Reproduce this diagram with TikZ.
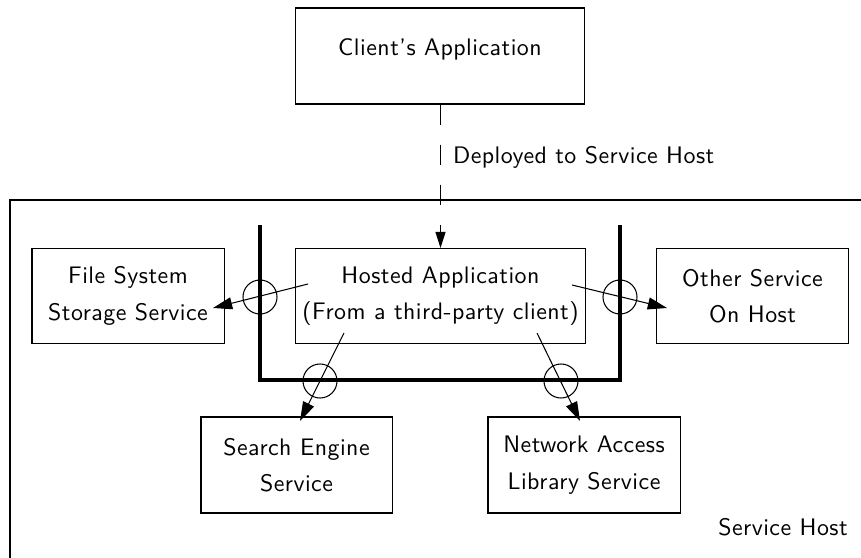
\documentclass[tikz,border=0pt]{standalone}
\usepackage{fontspec}
\usepackage{tikz}
\usetikzlibrary{arrows.meta,positioning}

\newfontfamily\diagsans{lmsans10-regular.otf}[LetterSpace=2, Ligatures=TeX]
\newcommand{\diagfont}{\diagsans\fontsize{17}{26}\selectfont}

\tikzset{
  box/.style={draw, line width=0.75pt, rectangle, align=center, inner sep=0pt,
    font=\diagfont},
  joint/.style={draw, line width=0.75pt, circle, minimum size=0.85cm, inner sep=0pt},
  uses/.style={line width=0.75pt, -{Triangle[length=0.48cm,width=0.3cm]}},
  wall/.style={line width=3.5pt},
  lbl/.style={font=\diagfont, inner sep=0pt}
}

\begin{document}
\begin{tikzpicture}[x=0.025cm, y=-0.025cm]
   \useasboundingbox (0,0) rectangle (861,558);
   \clip (0,0) rectangle (861,558);
   % the host
   \draw[line width=0.75pt] (10,200) rectangle (900,600);
   \node[lbl, anchor=east] (hostname) at (848,527) {Service Host};
   % boxes
   \node[box, minimum width=7.2cm, minimum height=2.4cm, text depth=0.45cm] (client) at (440,56) {Client's Application};
   \node[box, minimum width=7.225cm, minimum height=2.375cm] (hosted) at (440.5,296) {Hosted Application\\(From a third-party client)};
   \node[box, minimum width=4.8cm, minimum height=2.375cm] (files) at (128,296) {File System\\Storage Service};
   \node[box, minimum width=4.8cm, minimum height=2.375cm] (other) at (752.5,296) {Other Service\\On Host};
   \node[box, minimum width=4.775cm, minimum height=2.4cm] (search) at (296.5,465) {Search Engine\\Service};
   \node[box, minimum width=4.8cm, minimum height=2.4cm] (network) at (584,465) {Network Access\\Library Service};
   % sandbox wall
   \draw[wall] (260,225) |- (620,380) -- (620,225);
   \node[joint] (jfiles) at (260,297) {};
   \node[joint] (jother) at (620,297) {};
   \node[joint] (jsearch) at (320,381) {};
   \node[joint] (jnetwork) at (561,381) {};
   % deploy
   \draw[line width=0.75pt, dash pattern=on 0.5cm off 0.5cm, -{Triangle[length=0.4cm,width=0.25cm]}]
     (client.south -| hosted.north) -- node[lbl, pos=0.37, right=0.3cm] (deploy) {Deployed to Service Host} (hosted.north);
   % calls out of the hosted application
   \coordinate (hw) at (308,284);
   \coordinate (he) at (572,285);
   \coordinate (hsw) at (344,333);
   \coordinate (hse) at (537,333);
   \coordinate (tfiles) at (213,308);
   \coordinate (tother) at (667,308);
   \coordinate (tsearch) at (300,421);
   \coordinate (tnetwork) at (580,421);
   \draw[uses] (hw) -- (tfiles);
   \draw[uses] (he) -- (tother);
   \draw[uses] (hsw) -- (tsearch);
   \draw[uses] (hse) -- (tnetwork);
\end{tikzpicture}
\end{document}
